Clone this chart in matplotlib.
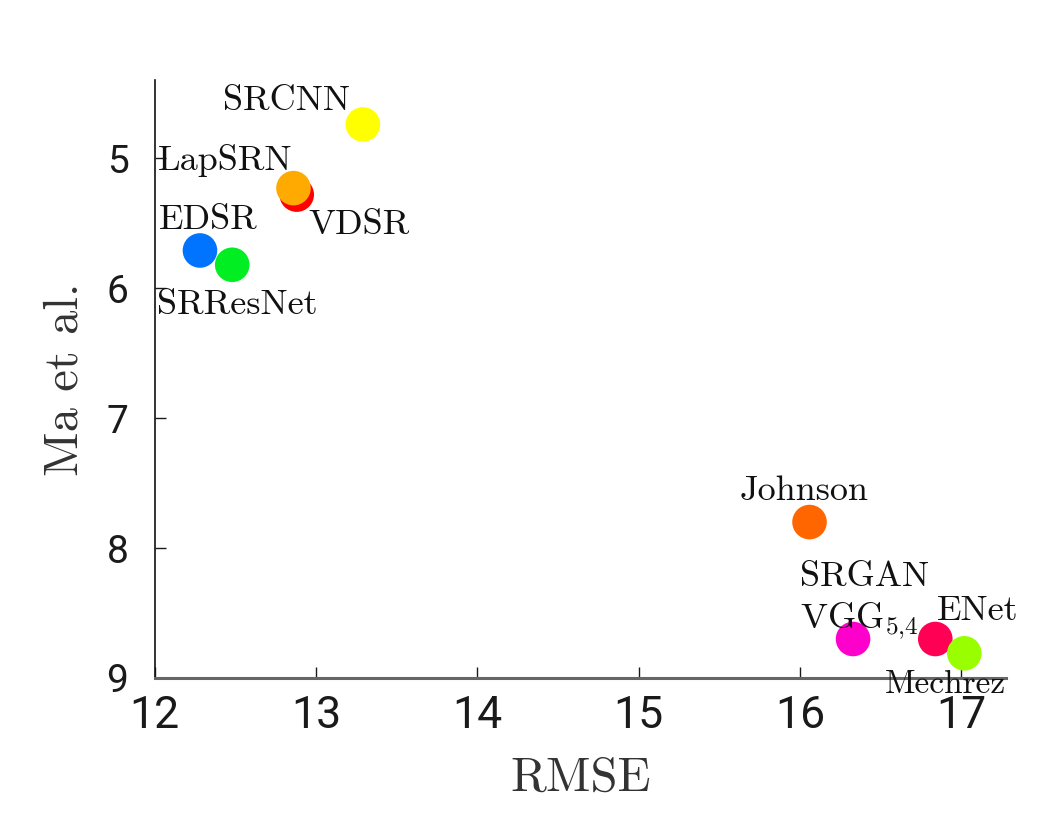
import matplotlib
matplotlib.use("Agg")
import matplotlib.pyplot as plt

plt.rcParams['mathtext.fontset'] = 'cm'

# data
methods = ['SRCNN', 'LapSRN', 'VDSR', 'EDSR', 'SRResNet', 'Johnson',
           'SRGAN\nVGG$_{5{,}4}$', 'ENet', 'Mechrez']
rmse = [13.29, 12.86, 12.88, 12.28, 12.48, 16.06, 16.33, 16.84, 17.02]
ma_score = [4.74, 5.23, 5.28, 5.71, 5.82, 7.80, 8.70, 8.70, 8.81]
colors = ['#ffff00', '#ffaa00', '#ff0000', '#0073ff', '#00ee22',
          '#ff6600', '#ff00cc', '#ff0055', '#99ff00']

# label placement (pixel offsets from the point)
offsets = [(-76, 23), (-68, 28), (62, -31), (8, 30), (5, -40),
           (-5, 31), (-53, 11), (42, 28), (-19, -31)]
label_sizes = [26, 26, 26, 26, 26, 26, 26, 26, 24]

fig = plt.figure(figsize=(10.46, 8.36), dpi=100)
ax = fig.add_axes([0.148, 0.189, 0.814, 0.715])

# draw VDSR before LapSRN so the orange one sits on top
order = [0, 2, 1, 3, 4, 5, 6, 7, 8]
for i in order:
    ax.scatter(rmse[i], ma_score[i], s=620, color=colors[i], edgecolors='none', zorder=3)

for i in range(len(methods)):
    if i == 6:
        ha, va = 'left', 'baseline'
    else:
        ha, va = 'center', 'center'
    ax.annotate(methods[i], (rmse[i], ma_score[i]), xytext=offsets[i],
                textcoords='offset pixels', ha=ha, va=va, ma='left',
                fontsize=label_sizes[i], family='cmr10', color='#111111',
                linespacing=1.25)

ax.set_xlim(12, 17.28)
ax.set_ylim(9, 4.4)
ax.set_xticks([12, 13, 14, 15, 16, 17])
ax.set_yticks([5, 6, 7, 8, 9])

for lab in ax.get_xticklabels():
    lab.set_family('Roboto')
    lab.set_fontsize(32)
for lab in ax.get_yticklabels():
    lab.set_family('Roboto')
    lab.set_fontsize(28)

ax.tick_params(direction='in', length=8, width=1, colors='#1a1a1a')
ax.tick_params(axis='y', pad=19)
ax.tick_params(axis='x', pad=12)

ax.spines['top'].set_visible(False)
ax.spines['right'].set_visible(False)
ax.spines['bottom'].set_color('#666666')
ax.spines['bottom'].set_linewidth(2.2)
ax.spines['left'].set_color('#111111')
ax.spines['left'].set_linewidth(1.2)

ax.set_xlabel('RMSE', family='cmr10', fontsize=35, color='#333333', labelpad=14)
ax.set_ylabel('Ma et al.', family='cmr10', fontsize=35, color='#333333', labelpad=14)

fig.savefig('out.png', dpi=100)
